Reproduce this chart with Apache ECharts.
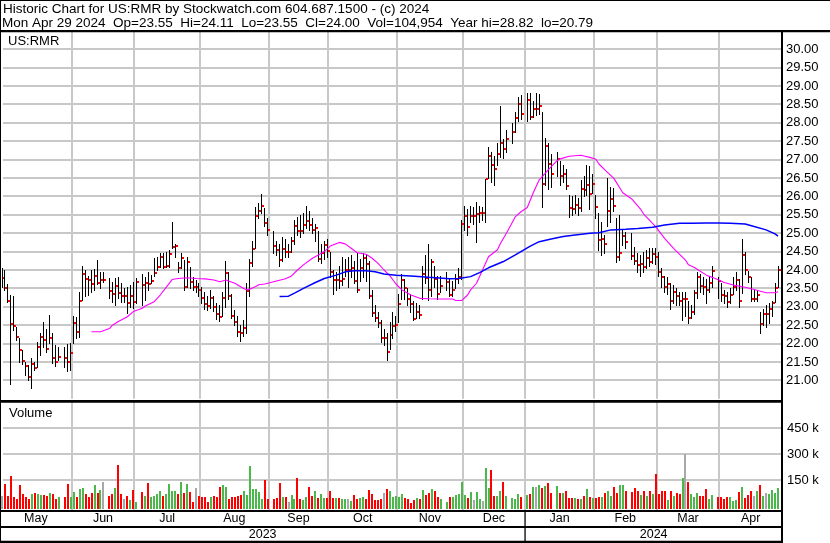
<!DOCTYPE html>
<html>
<head>
<meta charset="utf-8">
<script src="https://cdn.jsdelivr.net/npm/echarts@6/dist/echarts.min.js"></script>
<style>html,body{margin:0;padding:0;background:#fff}#c{width:830px;height:543px}</style>
</head>
<body>
<div id="c"></div>
<script>
// ---------------- DATA ----------------
const startDate = '2023-05-01';
const endDate = '2024-04-29';
const holidays = ['2023-05-29','2023-06-19','2023-07-04','2023-09-04','2023-11-23','2023-12-25','2024-01-01','2024-01-15','2024-02-19','2024-03-29'];

const highs = [
  24.05,24.00,23.62,23.32,23.29,22.46,22.14,21.83,21.51,21.42,21.62,21.51,22.03,22.28,22.58,22.41,22.78,22.28,21.96,21.92,null,21.92,21.99,
  22.01,22.76,22.73,23.40,24.11,24.00,23.84,24.00,24.03,24.27,23.94,23.95,null,23.77,23.68,23.77,23.82,23.64,23.50,23.55,23.59,23.68,
  23.77,null,23.88,23.82,23.95,23.86,24.32,24.36,24.45,24.45,24.50,24.54,25.30,24.72,24.23,24.45,24.27,24.36,24.09,23.82,23.73,
  23.64,23.55,23.40,23.30,23.45,23.28,23.10,23.05,23.40,24.25,23.95,23.35,22.90,22.75,22.50,22.65,23.65,24.30,24.80,25.70,25.82,26.07,25.68,
  25.40,null,25.05,24.80,24.70,24.90,24.85,24.70,24.90,25.35,25.45,25.50,25.55,25.74,25.60,25.40,25.25,25.05,24.70,24.80,24.85,
  24.50,24.00,23.95,24.10,24.35,24.30,24.35,24.40,24.25,24.45,24.30,24.45,24.40,24.25,23.45,23.05,22.85,22.65,22.40,22.30,22.60,22.85,
  22.75,23.35,23.90,23.75,23.50,23.35,23.15,23.10,23.05,24.10,24.40,24.72,24.30,24.10,23.85,23.85,null,23.95,23.75,23.70,23.90,24.05,
  25.36,25.75,25.65,25.75,25.70,25.85,25.75,25.70,26.48,27.35,27.20,27.10,27.45,28.46,27.55,27.80,null,28.00,28.30,28.70,28.75,
  null,28.80,28.82,28.60,28.82,28.78,28.30,27.60,27.45,27.15,null,27.20,26.95,26.85,26.75,26.05,26.00,26.05,25.95,26.45,26.55,26.85,26.83,
  26.60,26.05,25.55,25.30,24.95,26.49,26.26,26.22,25.40,25.49,25.09,25.04,null,25.00,24.63,24.45,24.40,24.50,24.55,24.60,24.60,
  24.60,24.50,24.05,23.85,23.80,23.65,23.60,23.50,23.40,23.40,23.40,23.15,23.05,23.45,23.95,23.90,23.80,23.75,23.85,24.10,null,
  23.82,23.65,23.45,23.40,23.50,23.80,23.95,23.75,24.83,24.50,23.98,23.80,23.45,23.45,22.87,22.95,23.05,23.10,23.15,23.64,24.11
];
const lows = [
  23.55,23.45,23.12,20.89,22.37,22.10,21.51,21.45,21.15,21.01,20.79,21.28,21.37,21.69,21.92,21.78,22.01,21.46,21.39,21.55,null,21.37,21.26,
  21.28,22.01,22.14,22.19,23.18,23.28,23.32,23.41,23.47,23.62,23.50,23.68,null,23.23,23.14,23.05,23.23,23.14,23.14,22.82,23.00,22.96,
  23.09,null,23.05,23.18,23.46,23.64,23.85,24.00,24.09,24.05,24.09,24.09,24.59,24.36,23.95,24.05,23.46,23.55,23.50,23.46,23.41,
  23.28,23.10,22.95,22.90,22.98,22.88,22.68,22.62,22.75,23.00,23.20,22.70,22.50,22.20,22.08,22.20,22.30,23.30,24.10,24.60,25.40,25.55,25.20,
  24.95,null,24.45,24.40,24.10,24.25,24.35,24.35,24.50,24.70,24.95,24.90,25.00,25.15,25.10,25.00,24.80,24.25,24.20,24.30,24.35,
  23.80,23.35,23.45,23.50,23.60,23.85,23.55,23.80,23.65,23.40,23.70,23.80,23.70,23.25,22.75,22.62,22.45,22.05,21.95,21.55,21.85,22.15,
  22.35,22.60,23.20,23.20,23.05,22.85,22.65,22.70,22.70,23.20,23.65,23.18,23.30,23.55,23.20,23.40,null,23.45,23.28,23.30,23.50,23.65,
  23.75,25.10,24.95,25.30,25.25,24.75,25.30,25.35,25.30,26.50,26.40,26.30,26.85,27.08,27.05,27.20,null,27.45,27.75,28.05,28.10,
  null,28.05,28.10,28.15,28.20,28.25,25.72,26.30,26.20,26.25,null,26.55,26.30,26.40,26.20,25.45,25.50,25.55,25.50,25.60,26.00,26.05,25.65,
  26.10,25.40,24.55,24.40,24.45,25.20,25.31,25.60,24.23,24.27,24.68,24.60,null,24.30,24.15,23.95,23.85,23.95,24.05,24.10,24.20,
  24.15,23.85,23.55,23.40,23.35,22.95,23.10,23.05,23.05,22.65,22.75,22.55,22.70,22.80,23.25,23.40,23.35,23.10,23.40,23.55,null,
  23.23,23.15,23.10,23.00,23.10,23.35,23.45,23.00,23.38,23.90,23.68,23.15,23.15,23.15,22.28,22.50,22.45,22.55,22.75,23.14,23.55
];
const closes = [
  23.79,23.52,23.17,22.54,22.49,22.19,21.83,21.54,21.39,21.10,21.44,21.35,21.92,22.19,22.10,21.85,22.16,21.62,21.50,21.64,null,21.62,21.50,
  21.75,22.56,22.32,23.17,23.89,23.76,23.73,23.62,23.84,23.66,23.73,23.73,null,23.44,23.35,23.57,23.38,23.28,23.28,23.11,23.28,23.12,
  23.68,null,23.59,23.66,23.62,23.71,23.91,24.08,24.36,24.09,24.12,24.44,24.63,24.66,24.06,24.33,23.55,24.21,23.68,23.55,23.55,
  23.46,23.25,23.08,23.03,23.25,23.00,22.80,22.73,23.23,23.93,23.29,22.76,22.58,22.31,22.28,22.43,23.44,24.20,24.58,25.48,25.59,25.74,25.27,
  25.08,null,24.65,24.55,24.28,24.57,24.50,24.50,24.78,25.20,25.07,25.05,25.22,25.34,25.22,25.09,25.15,24.30,24.45,24.68,24.51,
  23.95,23.72,23.73,23.71,23.75,24.00,24.00,24.06,23.71,23.46,24.06,24.32,24.16,23.29,22.84,22.70,22.57,22.15,22.15,21.77,22.23,22.48,
  22.51,23.08,23.73,23.50,23.21,23.08,22.68,22.87,22.79,23.89,23.77,23.46,24.22,23.76,23.34,23.57,null,23.67,23.32,23.46,23.76,23.82,
  25.25,25.48,25.18,25.48,25.48,25.52,25.54,25.54,26.46,27.10,26.86,26.74,27.16,27.46,27.28,27.57,null,27.76,28.14,28.51,28.24,
  null,28.62,28.17,28.38,28.38,28.45,26.34,27.38,26.88,26.62,null,27.02,26.55,26.62,26.28,25.69,25.67,25.77,25.69,26.20,26.17,26.30,26.07,
  26.35,25.71,24.82,24.85,24.71,25.61,25.94,25.75,24.34,24.47,24.93,24.75,null,24.39,24.25,24.14,24.17,24.09,24.32,24.23,24.43,
  24.36,23.95,23.82,23.55,23.62,23.17,23.41,23.28,23.17,23.22,23.22,22.70,22.86,23.38,23.82,23.56,23.55,23.47,23.66,23.98,null,
  23.70,23.32,23.28,23.13,23.31,23.53,23.74,23.17,24.41,24.00,23.82,23.22,23.22,23.33,22.54,22.81,22.81,22.95,23.09,23.52,24.00
];
// volume in thousands of shares
const volumesK = [
  61,129,61,175,55,42,123,71,52,42,71,77,71,65,65,61,75,71,42,52,null,55,129,
  55,82,55,100,105,71,55,77,123,75,94,142,null,57,71,108,240,73,42,61,37,94,
  27,null,80,61,134,55,61,73,88,61,71,129,88,88,71,140,75,129,80,27,103,
  59,52,55,27,55,59,55,113,123,111,44,55,55,61,65,86,65,230,100,100,82,42,154,
  42,null,42,50,132,53,53,27,65,42,165,42,38,55,113,61,86,50,71,50,50,
  88,50,48,48,44,42,42,33,65,42,48,55,42,94,71,38,38,42,75,98,88,55,
  61,55,71,46,42,21,36,46,42,94,65,75,100,90,55,42,null,25,54,54,63,71,
  140,65,46,80,36,80,42,33,221,105,209,59,57,88,140,59,null,48,42,69,55,
  null,65,69,111,109,121,107,117,134,77,null,117,77,77,90,50,50,50,42,44,59,100,55,
  50,50,54,55,75,88,61,109,75,123,121,88,null,84,103,88,63,88,61,90,71,
  186,71,90,90,36,88,61,75,71,161,302,142,69,55,75,59,59,100,42,65,null,
  55,55,42,55,55,33,36,80,109,50,63,88,59,88,123,59,75,71,94,77,105
];
// moving averages: [day index, value]
const maFast = [[30,22.32],[33,22.32],[36,22.41],[37,22.50],[39,22.60],[42,22.73],[44,22.87],[47,22.96],[48,23.02],[51,23.14],[53,23.32],[55,23.53],[57,23.74],[59,23.77],[62,23.79],[65,23.77],[68,23.76],[71,23.73],[73,23.68],[75,23.73],[78,23.64],[81,23.50],[82,23.46],[83,23.48],[85,23.55],[86,23.60],[88,23.62],[91,23.68],[95,23.76],[97,23.84],[99,24.00],[101,24.14],[104,24.32],[106,24.41],[108,24.50],[110,24.65],[113,24.75],[115,24.71],[117,24.59],[119,24.47],[122,24.43],[124,24.32],[126,24.18],[128,24.00],[130,23.84],[132,23.62],[134,23.46],[137,23.32],[140,23.23],[143,23.22],[147,23.21],[151,23.21],[152,23.17],[154,23.17],[156,23.32],[157,23.46],[159,23.64],[161,24.00],[163,24.36],[166,24.55],[167,24.72],[169,25.00],[172,25.45],[174,25.59],[176,25.70],[178,26.10],[180,26.45],[181,26.54],[184,26.81],[186,26.97],[187,27.02],[190,27.09],[194,27.12],[195,27.10],[197,27.06],[199,27.01],[200,26.88],[202,26.72],[205,26.49],[208,26.10],[211,25.93],[214,25.65],[215,25.52],[219,25.18],[222,24.86],[225,24.59],[229,24.27],[230,24.14],[232,24.07],[236,23.86],[238,23.80],[242,23.66],[245,23.59],[249,23.53],[252,23.47],[256,23.38],[259,23.38],[260,23.41]];
const maSlow = [[93,23.28],[96,23.29],[98,23.37],[101,23.50],[105,23.66],[108,23.77],[112,23.86],[115,23.95],[118,23.98],[122,23.98],[125,23.95],[128,23.89],[132,23.86],[137,23.84],[143,23.80],[150,23.76],[153,23.77],[157,23.82],[160,23.93],[163,24.06],[168,24.23],[172,24.41],[177,24.65],[180,24.77],[184,24.84],[188,24.91],[192,24.95],[197,25.00],[200,25.01],[204,25.09],[209,25.11],[213,25.13],[218,25.16],[222,25.22],[227,25.27],[231,25.27],[236,25.28],[240,25.28],[244,25.27],[249,25.25],[252,25.18],[256,25.09],[259,24.98],[260,24.92]];

const priceGridValues = [21,21.5,22,22.5,23,23.5,24,24.5,25,25.5,26,26.5,27,27.5,28,28.5,29,29.5,30];
const volumeGridValues = [150000,300000,450000];
const monthLabels = ['May','Jun','Jul','Aug','Sep','Oct','Nov','Dec','Jan','Feb','Mar','Apr'];
const monthStarts = ['2023-05-01','2023-06-01','2023-07-01','2023-08-01','2023-09-01','2023-10-01','2023-11-01','2023-12-01','2024-01-01','2024-02-01','2024-03-01','2024-04-01'];
const yearLabels = ['2023','2024'];
const yearStart2 = '2024-01-01';
const titleLine1 = 'Historic Chart for US:RMR by Stockwatch.com 604.687.1500 - (c) 2024';
const titleLine2 = 'Mon Apr 29 2024  Op=23.55  Hi=24.11  Lo=23.55  Cl=24.00  Vol=104,954  Year hi=28.82  lo=20.79';
const symbolLabel = 'US:RMR';
const volumeLabel = 'Volume';

// ---------------- BUILD ----------------
function ymd(d) { return d.toISOString().slice(0, 10); }
const dates = [];
for (let d = new Date(startDate + 'T00:00:00Z'); ymd(d) <= endDate; d.setUTCDate(d.getUTCDate() + 1)) {
  const wd = d.getUTCDay();
  if (wd !== 0 && wd !== 6) dates.push(ymd(d));
}
if (dates.length !== highs.length || dates.length !== lows.length || dates.length !== closes.length || dates.length !== volumesK.length) {
  console.error('length mismatch', dates.length, highs.length, lows.length, closes.length, volumesK.length);
}

const FONT = '"Liberation Sans", Arial, Helvetica, sans-serif';
const GRID_COLOR = '#c8c8c8';
const UP = '#4cb84c', DOWN = '#ff0000', FLAT = '#a8a8a8';

const barData = [], volData = [];
let prev = null;
for (let i = 0; i < dates.length; i++) {
  if (closes[i] == null) continue;
  barData.push([i, highs[i], lows[i], closes[i]]);
  const dir = prev == null ? 0 : (closes[i] > prev ? 1 : (closes[i] < prev ? -1 : 0));
  volData.push([i, volumesK[i] * 1000, dir]);
  prev = closes[i];
}

function lastIndexOnOrBefore(ds) {
  let k = 0;
  for (let i = 0; i < dates.length; i++) if (dates[i] <= ds) k = i;
  return k;
}
const monthIdx = monthStarts.map(lastIndexOnOrBefore);
const gridMonthIdx = monthIdx.slice(1).map(i => [i, 0]);

const PLOT_LEFT = 3, PLOT_W = 779;
const PRICE_TOP = 30.8, PRICE_H = 368;
const VOL_TOP = 401.5, VOL_H = 104.8;
const VOL_MAX = VOL_H / 26 * 150000;

function hGrid(params, api) {
  const cs = params.coordSys;
  const y = Math.round(api.coord([0, api.value(1)])[1]);
  return { type: 'rect', shape: { x: cs.x, y: y - 1, width: cs.width, height: 2 }, style: { fill: GRID_COLOR } };
}
function vGridMaker(extra) {
  return function (params, api) {
    const cs = params.coordSys;
    const band = api.size([1, 0])[0];
    const x = Math.round(api.coord([api.value(0), 0])[0] - band / 2);
    return { type: 'rect', shape: { x: x - 1, y: cs.y, width: 2, height: cs.height + extra }, style: { fill: GRID_COLOR } };
  };
}
function priceBar(params, api) {
  const i = api.value(0);
  const band = api.size([1, 0])[0];
  const pc = api.coord([i, api.value(3)]);
  const left = pc[0] - band / 2;
  const lx = Math.round(left - 1.5);
  const yH = Math.round(api.coord([i, api.value(1)])[1]);
  const yL = Math.round(api.coord([i, api.value(2)])[1]);
  const yC = Math.round(pc[1]);
  return {
    type: 'group', children: [
      { type: 'rect', shape: { x: lx, y: yH, width: 1, height: Math.max(1, yL - yH + 1) }, style: { fill: '#000' } },
      { type: 'rect', shape: { x: lx + 1, y: yC - 1, width: 2, height: 2 }, style: { fill: '#ff0000' } }
    ]
  };
}
function volBar(params, api) {
  const i = api.value(0);
  const band = api.size([1, 0])[0];
  const p = api.coord([i, api.value(1)]);
  const x = Math.round(p[0] - band / 2 - 2);
  const base = Math.round(params.coordSys.y + params.coordSys.height + 2.7);
  const top = Math.round(p[1]);
  const dir = api.value(2);
  return { type: 'rect', shape: { x: x, y: top, width: 2, height: Math.max(1, base - top) }, style: { fill: dir > 0 ? UP : (dir < 0 ? DOWN : FLAT) } };
}

const xBase = { type: 'category', data: dates, boundaryGap: true, axisLine: { show: false }, axisTick: { show: false }, axisLabel: { show: false }, splitLine: { show: false } };

const option = {
  animation: false,
  backgroundColor: '#ffffff',
  grid: [
    { left: PLOT_LEFT, top: PRICE_TOP, width: PLOT_W, height: PRICE_H, outerBoundsMode: 'none', containLabel: false },
    { left: PLOT_LEFT, top: VOL_TOP, width: PLOT_W, height: VOL_H, outerBoundsMode: 'none', containLabel: false },
    { left: PLOT_LEFT - 2.5, top: PRICE_TOP, width: PLOT_W, height: PRICE_H, outerBoundsMode: 'none', containLabel: false }
  ],
  xAxis: [
    Object.assign({ gridIndex: 0 }, xBase),
    Object.assign({ gridIndex: 1 }, xBase),
    Object.assign({ gridIndex: 2 }, xBase)
  ],
  yAxis: [
    {
      gridIndex: 0, type: 'value', position: 'right', min: 20.5, max: 30.5, interval: 0.5,
      axisLine: { show: false }, axisTick: { show: false }, splitLine: { show: false },
      axisLabel: { color: '#000', fontSize: 13, fontFamily: FONT, margin: 4, align: 'left',
        formatter: v => (v < 20.99 || v > 30.01) ? '' : v.toFixed(2) }
    },
    {
      gridIndex: 1, type: 'value', position: 'right', min: 0, max: VOL_MAX, interval: 150000,
      axisLine: { show: false }, axisTick: { show: false }, splitLine: { show: false },
      axisLabel: { color: '#000', fontSize: 13, fontFamily: FONT, margin: 5, align: 'left',
        formatter: v => (v > 1 && v < 450001) ? Math.round(v / 1000) + ' k' : '' }
    },
    { gridIndex: 2, type: 'value', min: 20.5, max: 30.5, show: false, splitLine: { show: false } }
  ],
  series: [
    { type: 'custom', name: 'pgrid', xAxisIndex: 0, yAxisIndex: 0, z: 1, silent: true, renderItem: hGrid, data: priceGridValues.map(v => [0, v]) },
    { type: 'custom', name: 'vgridP', xAxisIndex: 0, yAxisIndex: 0, z: 1, silent: true, renderItem: vGridMaker(0), data: gridMonthIdx },
    { type: 'custom', name: 'vgridV', xAxisIndex: 1, yAxisIndex: 1, z: 1, silent: true, renderItem: vGridMaker(3.7), data: gridMonthIdx },
    { type: 'custom', name: 'volgrid', xAxisIndex: 1, yAxisIndex: 1, z: 1, silent: true, renderItem: hGrid, data: volumeGridValues.map(v => [0, v]) },
    { type: 'custom', name: 'price', xAxisIndex: 0, yAxisIndex: 0, z: 3, silent: true, renderItem: priceBar, encode: { x: 0, y: [1, 2, 3] }, data: barData },
    { type: 'custom', name: 'volume', xAxisIndex: 1, yAxisIndex: 1, z: 3, silent: true, renderItem: volBar, encode: { x: 0, y: 1 }, data: volData },
    { type: 'line', name: 'maFast', xAxisIndex: 2, yAxisIndex: 2, z: 4, silent: true, showSymbol: false, symbol: 'none', lineStyle: { color: '#ff00ff', width: 1.1 }, data: maFast },
    { type: 'line', name: 'maSlow', xAxisIndex: 2, yAxisIndex: 2, z: 4, silent: true, showSymbol: false, symbol: 'none', lineStyle: { color: '#0000ff', width: 1.5 }, data: maSlow }
  ]
};

const chart = echarts.init(document.getElementById('c'), null, { renderer: 'canvas', width: 830, height: 543 });
chart.setOption(option);

// ---------------- FRAME & TEXT ----------------
const band = PLOT_W / dates.length;
function bandLeft(idx) { return chart.convertToPixel({ xAxisIndex: 1 }, dates[idx]) - band / 2; }
const rightEdge = PLOT_LEFT + PLOT_W;
const G = [];
function rect(x, y, w, h, fill) { G.push({ type: 'rect', z: 100, silent: true, shape: { x, y, width: w, height: h }, style: { fill: fill || '#000' } }); }
function text(str, x, y, size, align) {
  G.push({ type: 'text', z: 101, silent: true, x: x, y: y,
    style: { text: str, fill: '#000', fontSize: size, fontFamily: FONT, align: align || 'left', verticalAlign: 'middle' } });
}
rect(0, 0, 830, 1);
rect(0, 0, 1, 543);
rect(0, 30, 830, 2.3);
rect(0, 400, rightEdge, 2.7);
rect(rightEdge - 1, 30, 2, 513);
rect(0, 510, rightEdge, 2);
rect(0, 526, rightEdge, 2);
rect(0, 540.7, rightEdge, 2.3);
const janX = bandLeft(lastIndexOnOrBefore(yearStart2));
rect(Math.round(janX) - 0.6, 512, 1.3, 29);

text(titleLine1, 3, 9, 13.5);
text(titleLine2, 2, 23.6, 13.5);
text(symbolLabel, 8, 41.3, 13);
text(volumeLabel, 9, 413.8, 13);

for (let m = 0; m < monthLabels.length; m++) {
  const l = m === 0 ? 0 : bandLeft(monthIdx[m]);
  const r = m === monthLabels.length - 1 ? rightEdge : bandLeft(monthIdx[m + 1]);
  text(monthLabels[m], (l + r) / 2, 518.6, 12.5, 'center');
}
text(yearLabels[0], janX / 2, 535, 12.5, 'center');
text(yearLabels[1], (janX + rightEdge) / 2, 535, 12.5, 'center');

chart.setOption({ graphic: { elements: G } });
</script>
</body>
</html>
